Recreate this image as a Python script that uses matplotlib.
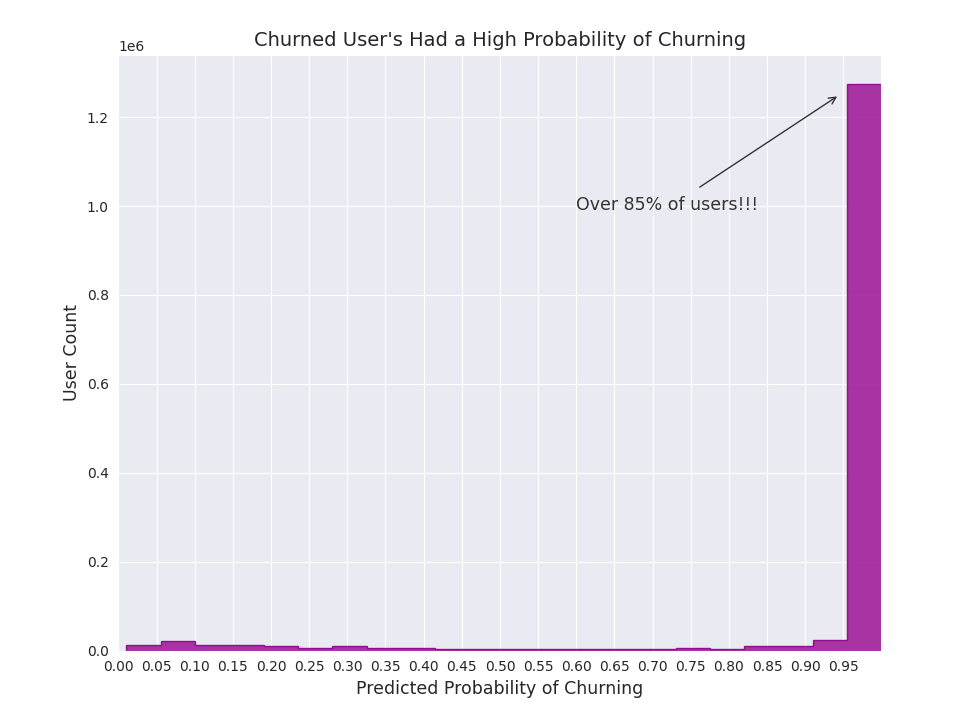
import numpy as np
import matplotlib.pyplot as plt
import seaborn as sns

sns.set_style("darkgrid")

# bin edges and counts
bin_edges = np.linspace(0.0105, 1.0, 23)
counts = [14000, 22000, 14000, 14000, 10000, 7000, 10000, 7000, 7000,
          3000, 3000, 3000, 3000, 3000, 3000, 3000, 6000, 3000,
          10000, 10000, 25000, 1275000]
x_ticks = np.round(np.arange(0, 1.0, 0.05), 2)

fig, ax = plt.subplots(figsize=(9.55, 7.12), dpi=100)
fig.subplots_adjust(left=0.124, right=0.923, top=0.923, bottom=0.086)

ax.hist(bin_edges[:-1], bins=bin_edges, weights=counts, histtype="stepfilled",
        color="#a0209a", alpha=0.9, edgecolor="#8b008b", linewidth=1)

ax.set_xlim(0, 1.0)
ax.set_ylim(0, 1.34e6)
ax.set_xticks(x_ticks)
ax.set_xticklabels([f"{t:.2f}" for t in x_ticks], fontsize=10)
ax.tick_params(axis="y", labelsize=10)

ax.set_title("Churned User's Had a High Probability of Churning", fontsize=14)
ax.set_xlabel("Predicted Probability of Churning", fontsize=12.5)
ax.set_ylabel("User Count", fontsize=12.5)

ax.annotate("Over 85% of users!!!", xy=(0.945, 1.25e6), xytext=(0.6, 0.99e6),
            fontsize=12.5, color="#333333",
            arrowprops=dict(arrowstyle="->", color="#333333", shrinkA=8,
                            relpos=(0.6, 1.0)))

plt.savefig("out.png", dpi=100)
